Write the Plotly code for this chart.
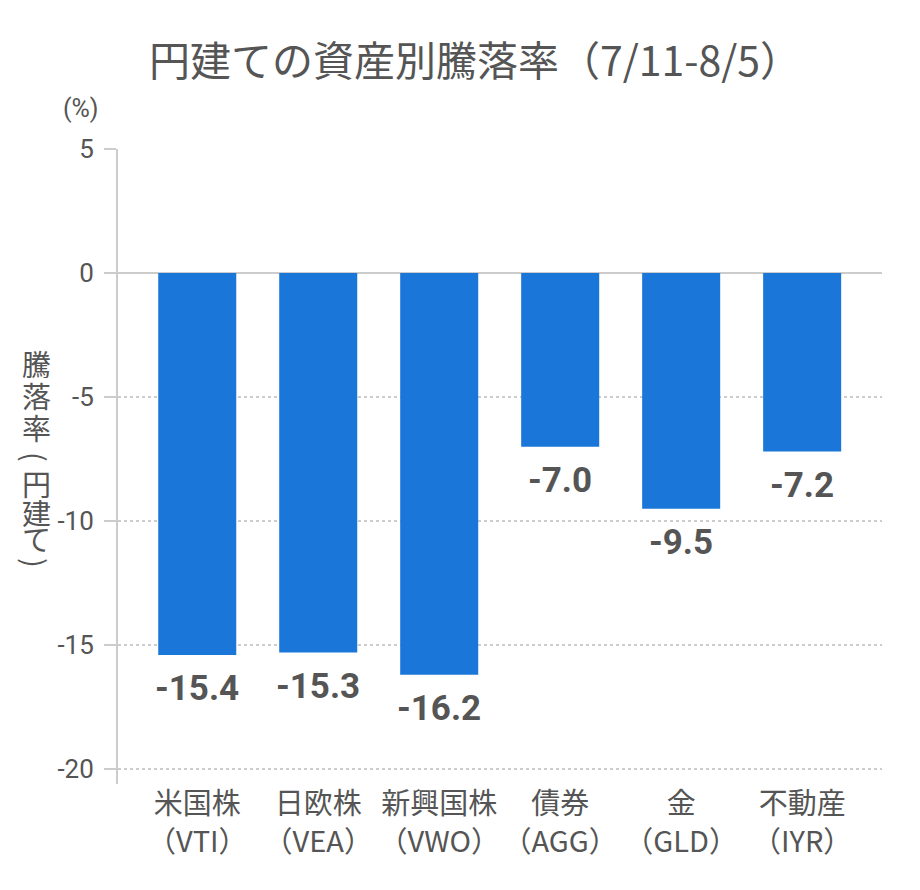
import plotly.graph_objects as go

# data
categories = ["米国株<br>（VTI）", "日欧株<br>（VEA）", "新興国株<br>（VWO）",
              "債券<br>（AGG）", "金<br>（GLD）", "不動産<br>（IYR）"]
returns = [-15.4, -15.3, -16.2, -7.0, -9.5, -7.2]
y_ticks = [5, 0, -5, -10, -15, -20]

FONT = "Roboto, 'Noto Sans CJK JP', sans-serif"
JP = "'Noto Sans CJK JP', sans-serif"
GREY = "#555555"
LINE = "#cccccc"

# plot area (figure pixels); page body adds an 8px offset
L, R, T, B = 110, 46, 141, 114
W, H = 920, 890


def px(x):
    return (x - L) / (W - L - R)


def py(y):
    return (H - B - y) / (H - T - B)


fig = go.Figure(go.Bar(
    x=categories, y=returns,
    marker=dict(color="#1A77D9", line=dict(width=0)),
    width=0.645,
    hoverinfo="x+y",
))

# value labels under each bar
for c, v in zip(categories, returns):
    fig.add_annotation(x=c, y=v, text=f"{v:.1f}", showarrow=False,
                       yanchor="top", yshift=-11,
                       font=dict(family=FONT, size=35, color=GREY, weight="bold"))

# vertical y title, one glyph per line; parentheses turned for vertical writing
ytitle = "騰落率(円建て)"
ytitle_pos = [355, 387, 419, 449, 475, 504, 530, 555]
for ch, yy in zip(ytitle, ytitle_pos):
    fig.add_annotation(xref="paper", yref="paper", x=px(28), y=py(yy),
                       text=ch, showarrow=False,
                       textangle=90 if ch in "()" else 0,
                       xanchor="center", yanchor="middle",
                       font=dict(family="Noto Sans CJK JP", size=29, color=GREY))
fig.add_annotation(xref="paper", yref="paper", x=px(73), y=py(100),
                   text="(%)", showarrow=False, xanchor="center", yanchor="middle",
                   font=dict(family=FONT, size=25, color=GREY))

fig.update_layout(
    width=W, height=H,
    margin=dict(l=L, r=R, t=T, b=B, autoexpand=False),
    plot_bgcolor="white", paper_bgcolor="white",
    showlegend=False,
    title=dict(text="円建ての資産別騰落率（7/11-8/5）", x=0.5 + 7 / W, xanchor="center",
               y=1 - 54 / H, yanchor="middle", automargin=False,
               font=dict(family=JP, size=41, color=GREY)),
    font=dict(family=FONT, color=GREY),
)
fig.update_xaxes(range=[-0.655, 5.66], showgrid=False, showline=False, ticks="",
                 automargin=False,
                 tickfont=dict(family=JP, size=29, color=GREY))
fig.update_yaxes(range=[-20.6, 5], tickvals=y_ticks, ticktext=[str(t) for t in y_ticks],
                 automargin=False,
                 showgrid=True, gridcolor=LINE, gridwidth=2, griddash="dot",
                 zeroline=True, zerolinecolor=LINE, zerolinewidth=2,
                 showline=True, linecolor=LINE, linewidth=2,
                 ticks="outside", ticklen=12, tickcolor=LINE, tickwidth=2,
                 ticklabelstandoff=5,
                 tickfont=dict(family=FONT, size=26, color=GREY))

fig.write_html("out.html")
